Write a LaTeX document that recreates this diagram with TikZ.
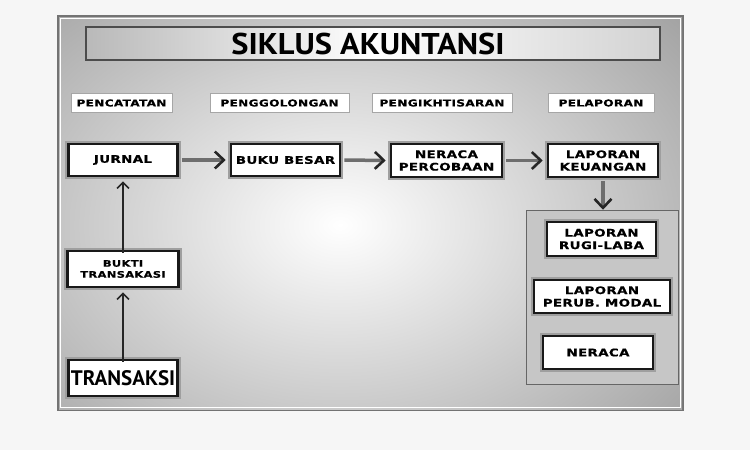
\documentclass[tikz,border=0pt]{standalone}
\usepackage{fontspec}
\setmainfont{DejaVu Sans}
\newfontfamily\widefont[FakeStretch=1.28,LetterSpace=3,FakeBold=0.6]{DejaVu Sans}
\newfontfamily\titlefont[FakeStretch=1.08]{PT Sans}
\newfontfamily\transfont{PT Sans}
\usetikzlibrary{arrows.meta,shadings}
\definecolor{pagebg}{HTML}{F6F6F6}
\definecolor{panelgray}{HTML}{808080}
\definecolor{shaftgray}{HTML}{6E6E6E}
\tikzset{
  lbl/.style={draw=gray!70, line width=1pt, fill=white, inner sep=0pt,
    font=\widefont\bfseries\fontsize{9.5}{10}\selectfont, text=black},
  mainbox/.style={preaction={draw=gray!75, line width=6.5pt}, draw=black!90,
    line width=2.6pt, fill=white, inner sep=0pt, align=center,
    font=\widefont\bfseries\fontsize{10.5}{12.5}\selectfont, text=black},
  flow/.style={draw=shaftgray, line width=3.5pt,
    -{Straight Barb[length=9pt,width=17pt,line width=2.6pt,color=black!85]}},
  upflow/.style={draw=black!85, line width=1.8pt,
    -{Straight Barb[length=6pt,width=12pt,line width=1.6pt]}},
}
\begin{document}
\begin{tikzpicture}[x=1pt,y=-1pt]
\useasboundingbox (0,0) rectangle (750,450);
\fill[pagebg] (0,0) rectangle (750,450);
% panel
\fill[black!55] (57,15) rectangle (684,411);
\begin{scope}
\clip (59,17) rectangle (682,409);
\fill[panelgray] (59,17) rectangle (682,409);
\shade[inner color=white, outer color=panelgray] (340,225) ellipse (620 and 440);
\end{scope}
\draw[white, line width=0.8pt] (60.5,18.5) rectangle (680.5,407.5);
% title bar
\shade[left color=gray!55, right color=gray!35, middle color=white]
  (86,27) rectangle (660,60);
\draw[black!70, line width=1.6pt] (86,27) rectangle (660,60);
\node (title) at (368,44) {\titlefont\bfseries\fontsize{30}{32}\selectfont SIKLUS AKUNTANSI};
% header labels
\node[lbl, minimum width=101pt, minimum height=19pt] (h1) at (121.5,103) {PENCATATAN};
\node[lbl, minimum width=139pt, minimum height=19pt] (h2) at (279.5,103) {PENGGOLONGAN};
\node[lbl, minimum width=140pt, minimum height=19pt] (h3) at (442,103) {PENGIKHTISARAN};
\node[lbl, minimum width=106pt, minimum height=19pt] (h4) at (601,103) {PELAPORAN};
% group box for reports
\node[draw=black!60, line width=1.5pt, fill=gray!45, minimum width=152pt, minimum height=174pt,
  inner sep=0pt] (grp) at (602.5,297.5) {};
% main boxes
\node[mainbox, minimum width=109pt, minimum height=32pt] (jurnal) at (123,160) {JURNAL};
\node[mainbox, minimum width=109pt, minimum height=32pt] (buku) at (285.5,160) {BUKU BESAR};
\node[mainbox, minimum width=111pt, minimum height=33pt] (neraca) at (446.5,160.5) {NERACA\\PERCOBAAN};
\node[mainbox, minimum width=110pt, minimum height=33pt] (lapkeu) at (603,160.5) {LAPORAN\\KEUANGAN};
\node[mainbox, minimum width=109pt, minimum height=34pt] (rugi) at (601.5,239) {LAPORAN\\RUGI-LABA};
\node[mainbox, minimum width=136pt, minimum height=33pt] (modal) at (602,296.5) {LAPORAN\\PERUB. MODAL};
\node[mainbox, minimum width=110pt, minimum height=33pt] (neraca2) at (598,352.5) {NERACA};
\node[mainbox, minimum width=111pt, minimum height=36pt, font=\widefont\bfseries\fontsize{9}{11}\selectfont] (bukti) at (123,269) {BUKTI\\TRANSAKASI};
\node[mainbox, minimum width=109pt, minimum height=36pt, font=\transfont\bfseries\fontsize{21}{22}\selectfont] (trans) at (123,378) {TRANSAKSI};
% connectors
\draw[flow] ([xshift=3pt]jurnal.east) -- ([xshift=-4pt]buku.west);
\draw[flow] ([xshift=3pt]buku.east) -- ([xshift=-4pt]neraca.west);
\draw[flow] ([xshift=3pt]neraca.east) -- ([xshift=-4pt]lapkeu.west);
\draw[flow] ([yshift=-3pt]lapkeu.south) -- (lapkeu.south |- grp.north);
\draw[upflow] ([yshift=-3pt]bukti.north) -- ([yshift=-4pt]jurnal.south);
\draw[upflow] ([yshift=-3pt]trans.north) -- ([yshift=-4pt]bukti.south);
\end{tikzpicture}
\end{document}
